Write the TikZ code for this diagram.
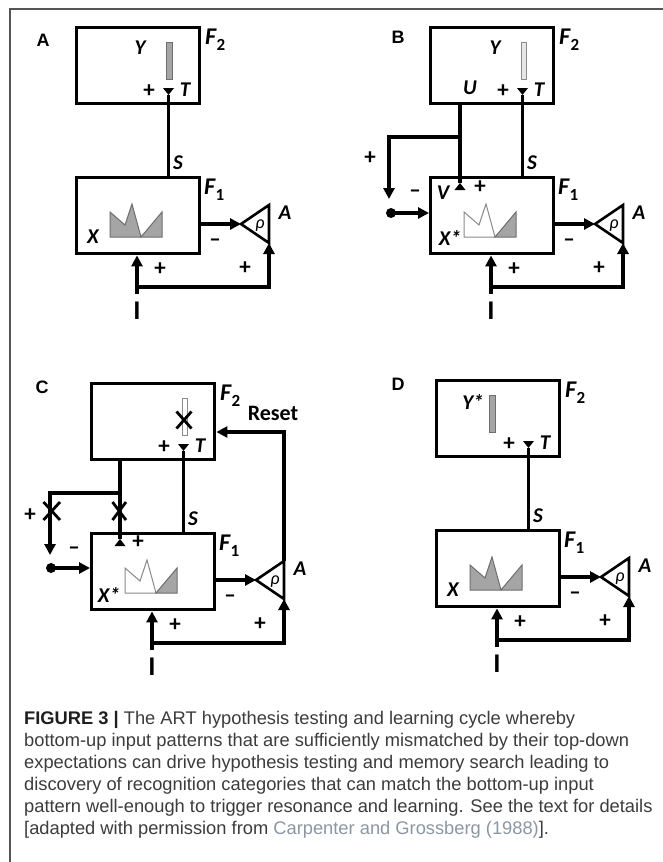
\documentclass[tikz,border=0pt]{standalone}
\usepackage{fontspec}
\setmainfont{Liberation Sans}
\newfontfamily\labfont{Carlito}
\usetikzlibrary{arrows.meta}
\definecolor{capgray}{HTML}{3C3C3C}
\definecolor{citegray}{HTML}{8C97A3}
\definecolor{framegray}{HTML}{555555}
\definecolor{patfill}{HTML}{A5A5A5}
\definecolor{patline}{HTML}{6E6E6E}
\definecolor{lightfill}{HTML}{E6E6E6}
\definecolor{lightline}{HTML}{8A8A8A}
\newcommand{\Fsub}[1]{F\kern0.5bp\raisebox{-6bp}{\fontsize{17bp}{17bp}\selectfont\upshape #1}}
\tikzset{
  box/.style={draw, line width=3.4bp, minimum width=123bp, minimum height=76bp, inner sep=0, anchor=north west},
  wire/.style={line width=3.6bp},
  tri/.style={-{Triangle[length=11bp,width=11bp]}},
  lab/.style={font=\labfont\bfseries\itshape\fontsize{21bp}{21bp}\selectfont, inner sep=0},
  flab/.style={font=\labfont\bfseries\itshape\fontsize{24bp}{24bp}\selectfont, inner sep=0, anchor=base west},
  sgn/.style={font=\labfont\bfseries\fontsize{23bp}{23bp}\selectfont, inner sep=0},
  plab/.style={font=\bfseries\fontsize{18bp}{18bp}\selectfont, inner sep=0},
  ilab/.style={font=\labfont\bfseries\fontsize{27bp}{27bp}\selectfont, inner sep=0},
  rholab/.style={font=\labfont\itshape\fontsize{18bp}{18bp}\selectfont, inner sep=0},
  xmark/.style={line width=2.8bp},
  captext/.style={font=\fontsize{18.3bp}{22bp}\selectfont, text=capgray, inner sep=0, anchor=base west},
  fullpat/.style={fill=patfill, draw=patline, line width=1bp},
}
\newcommand{\artcommon}[1]{%
  \node[box] (#1f2) at (0,0) {};
  \node[box] (#1f1) at (0,150) {};
  \node[flab] (#1f2l) at (130,18) {\Fsub{2}};
  \node[flab] (#1f1l) at (129,168) {\Fsub{1}};
  \coordinate (#1T) at (93.5,69);
  \fill (88,62) -- (99,62) -- (#1T) -- cycle;
  \draw[wire] (#1T) -- (#1T |- #1f1.north);
  \node[sgn] (#1tplus) at (74,65) {+};
  \node[lab] (#1tl) at (110,64) {T};
  \node[lab] (#1sl) at (103,137) {S};
  \coordinate (#1tip) at (166,198);
  \coordinate (#1top) at (194,179);
  \coordinate (#1bot) at (194,217);
  \draw[line width=2.6bp, line join=miter] (#1tip) -- (#1top) -- (#1bot) -- cycle;
  \node[rholab] (#1rho) at (185,200) {ρ};
  \node[lab] (#1al) at (210,187) {A};
  \draw[wire,tri] (#1f1.east |- #1tip) -- (#1tip);
  \node[sgn] (#1minus) at (140,217) {–};
  \coordinate (#1in) at (62,268);
  \coordinate (#1j) at (62,261);
  \draw[wire,tri] (#1in) -- (#1in |- #1f1.south);
  \draw[wire,tri] (#1j) -| (#1bot);
  \node[sgn] (#1p1) at (85,243) {+};
  \node[sgn] (#1p2) at (170,242) {+};
  \node[ilab] (#1il) at (62,285) {I};
}
\newcommand{\fullpattern}{%
  \draw[fullpat] (35,211) -- (35,186) -- (50,199) -- (57,178) -- (66,211) -- (87,186) -- (87,211) -- cycle;
}
\newcommand{\halfpattern}{%
  \draw[draw=lightline, line width=1bp] (66,211) -- (35,211) -- (35,186) -- (50,199) -- (57,178) -- (66,211);
  \draw[fill=patfill, draw=patline, line width=1bp] (66,211) -- (87,186) -- (87,211) -- cycle;
}
\begin{document}
\begin{tikzpicture}[x=1bp,y=-1bp]
\useasboundingbox (0,0) rectangle (663,862);
\fill[white] (0,0) rectangle (663,862);
\draw[framegray, line width=1.3bp] (10,862) -- (10,9) -- (663,9);

% ---------- Panel A ----------
\node[plab] (pA) at (43,40) {A};
\begin{scope}[shift={(75,26)}]
  \artcommon{A}
  \draw[fullpat] (91,16) rectangle (97,53);
  \node[lab] (Ay) at (65,22) {Y};
  \fullpattern
  \node[lab] (Ax) at (18,211) {X};
\end{scope}

% ---------- Panel B ----------
\node[plab] (pB) at (398,37) {B};
\begin{scope}[shift={(429,26)}]
  \artcommon{B}
  \draw[fill=lightfill, draw=lightline, line width=1bp] (92,16) rectangle (97,53);
  \node[lab] (By) at (66,22) {Y};
  \halfpattern
  \node[lab] (Bx) at (21,212) {X*};
  \node[lab] (Bu) at (41,62) {U};
  \coordinate (BV) at (31,157);
  \draw[wire] (BV |- Bf2.south) -- (BV);
  \fill (BV) -- (25.5,164) -- (36.5,164) -- cycle;
  \node[lab] (Bv) at (14,167) {V};
  \node[sgn] (Bvplus) at (51,161) {+};
  \coordinate (Bbr) at (31,111);
  \coordinate (Bdown) at (-40,173);
  \draw[wire,tri] (Bbr) -| (Bdown);
  \node[sgn] (Bbplus) at (-59,132) {+};
  \node[sgn] (Bbminus) at (-14,168) {–};
  \coordinate (Bdot) at (-38,187);
  \fill (Bdot) circle[radius=5bp];
  \draw[wire,tri] (Bdot) -- (Bf1.west |- Bdot);
\end{scope}

% ---------- Panel C ----------
\node[plab] (pC) at (42,387) {C};
\begin{scope}[shift={(90,382)}]
  \artcommon{C}
  \draw[fill=white, draw=lightline, line width=1bp] (92,16) rectangle (97,53);
  \draw[xmark] (86.5,29.5) -- (101.5,46.5) (86.5,46.5) -- (101.5,29.5);
  \halfpattern
  \node[lab] (Cx) at (19,213) {X*};
  \coordinate (CV) at (30,157);
  \draw[wire] (CV |- Cf2.south) -- (CV);
  \fill (CV) -- (24.5,164) -- (35.5,164) -- cycle;
  \node[sgn] (Cvplus) at (48,160) {+};
  \coordinate (Cbr) at (30,111);
  \coordinate (Cdown) at (-40,173);
  \draw[wire,tri] (Cbr) -| (Cdown);
  \draw[xmark] (22.5,120) -- (36,138) (22.5,138) -- (36,120);
  \draw[xmark] (-46.5,120) -- (-30,138) (-46.5,138) -- (-30,120);
  \node[sgn] (Cbplus) at (-60,133) {+};
  \node[sgn] (Cbminus) at (-16,169) {–};
  \coordinate (Cdot) at (-39,186);
  \fill (Cdot) circle[radius=5bp];
  \draw[wire,tri] (Cdot) -- (Cf1.west |- Cdot);
  \coordinate (Creset) at (194,50);
  \draw[wire,tri] (Ctop) -- (Creset) -- (Cf2.east |- Creset);
  \node[font=\labfont\bfseries\fontsize{22bp}{22bp}\selectfont, inner sep=0] (Cresetl) at (183,31) {Reset};
\end{scope}

% ---------- Panel D ----------
\node[plab] (pD) at (398,384) {D};
\begin{scope}[shift={(435,379)}]
  \artcommon{D}
  \draw[fullpat] (54,16) rectangle (60,53);
  \node[lab] (Dy) at (38,23) {Y*};
  \fullpattern
  \node[lab] (Dx) at (18,211) {X};
\end{scope}

% ---------- Caption ----------
\node[captext] (cap1) at (24,724) {{\bfseries\color{black!88}FIGURE 3 |} The ART hypothesis testing and learning cycle whereby};
\node[captext] (cap2) at (24,746) {bottom-up input patterns that are sufficiently mismatched by their top-down};
\node[captext] (cap3) at (24,768) {expectations can drive hypothesis testing and memory search leading to};
\node[captext] (cap4) at (24,790) {discovery of recognition categories that can match the bottom-up input};
\node[captext] (cap5) at (24,812) {pattern well-enough to trigger resonance and learning. See the text for details};
\node[captext] (cap6) at (24,834) {[adapted with permission from {\color{citegray}Carpenter and Grossberg (1988)}].};
\end{tikzpicture}
\end{document}
